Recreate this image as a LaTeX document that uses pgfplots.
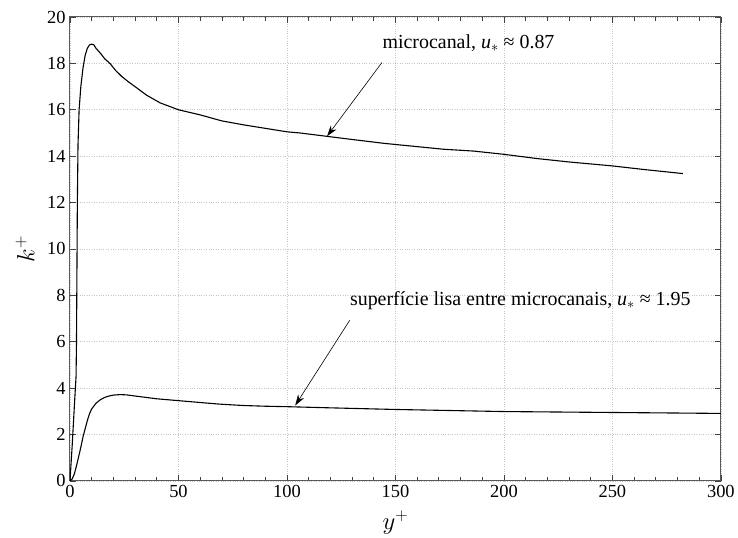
\documentclass[border=0pt]{standalone}
\usepackage{fontspec}
\setmainfont{Liberation Serif}
\usepackage{pgfplots}
\pgfplotsset{compat=1.18}
\usetikzlibrary{arrows.meta}
\begin{document}
\begin{tikzpicture}
\begin{axis}[
  width=651bp, height=464bp, scale only axis,
  xmin=0, xmax=300, ymin=0, ymax=20,
  xtick={0,50,...,300}, ytick={0,2,...,20},
  minor x tick num=4,
  grid=major,
  major grid style={dotted, gray!45, line width=0.6bp},
  tick align=inside,
  major tick length=6bp, minor tick length=4bp,
  tick style={black!75, line width=0.7bp},
  axis line style={black!65, line width=1bp},
  every tick label/.append style={font=\fontsize{18.5}{21}\selectfont},
  yticklabel style={xshift=-1bp},
  xticklabel style={yshift=-1bp},
  /pgf/number format/assume math mode=true,
  xlabel={$y^+$}, ylabel={$k^+$},
  xlabel style={font=\fontsize{26}{30}\selectfont, at={(axis description cs:0.5,-0.09)}, anchor=center},
  ylabel style={font=\fontsize{26}{30}\selectfont, at={(axis description cs:-0.069,0.5)}, anchor=center},
]
\coordinate (SW) at (rel axis cs:0,0);
\coordinate (NE) at (rel axis cs:1,1);
% microcanal
\addplot[black, line width=1.1bp] coordinates {
(0,0) (1,1.5) (2,3.2) (2.8,4.5) (3.0,6) (3.2,9) (3.4,12) (3.7,14.5) (4.2,16)
(5,17) (6,17.8) (7,18.35) (8,18.65) (9,18.8) (10,18.83) (11,18.8) (12,18.65)
(14,18.44) (16,18.2) (18.4,18.0) (21,17.7) (23.8,17.44) (27,17.2) (30.7,16.95)
(35.3,16.63) (41.5,16.3) (50,16.0) (60,15.78) (70,15.52) (80,15.35) (90,15.2)
(100,15.05) (106,15.0) (118,14.86) (130,14.72) (145,14.55) (158,14.43)
(172,14.3) (186,14.22) (200,14.08) (215,13.9) (230,13.75) (250,13.58)
(265,13.42) (282.5,13.25)
};
% superficie lisa
\addplot[black, line width=1.1bp] coordinates {
(0,0) (1,0.08) (2,0.3) (3,0.65) (4,1.05) (5,1.45) (6,1.9) (7,2.25) (8,2.6)
(9,2.9) (10,3.1) (12,3.35) (14,3.5) (16,3.6) (18,3.66) (20,3.7) (23,3.72)
(26,3.71) (30,3.66) (35,3.6) (40,3.54) (50,3.46) (60,3.38) (69,3.31)
(80,3.25) (90,3.22) (100,3.2) (120,3.15) (150,3.08) (200,2.99) (250,2.95)
(300,2.91)
};
\draw[-{Stealth[length=11bp,width=7bp]}, line width=0.6bp] (axis cs:143.8,18.04) -- (axis cs:118.5,14.86);
\draw[-{Stealth[length=11bp,width=7bp]}, line width=0.6bp] (axis cs:128.9,6.92) -- (axis cs:103.8,3.25);
\node[anchor=west, inner sep=0pt, font=\fontsize{20}{23}\selectfont] at (axis cs:144,18.87) {microcanal, \textit{u}$_{*}$ ≈ 0.87};
\node[anchor=west, inner sep=0pt, font=\fontsize{20}{23}\selectfont] at (axis cs:129,7.78) {superfície lisa entre microcanais, \textit{u}$_{*}$ ≈ 1.95};
\end{axis}
\path ([xshift=-70bp,yshift=-57bp]SW) rectangle ([xshift=17bp,yshift=17bp]NE);
\end{tikzpicture}
\end{document}
